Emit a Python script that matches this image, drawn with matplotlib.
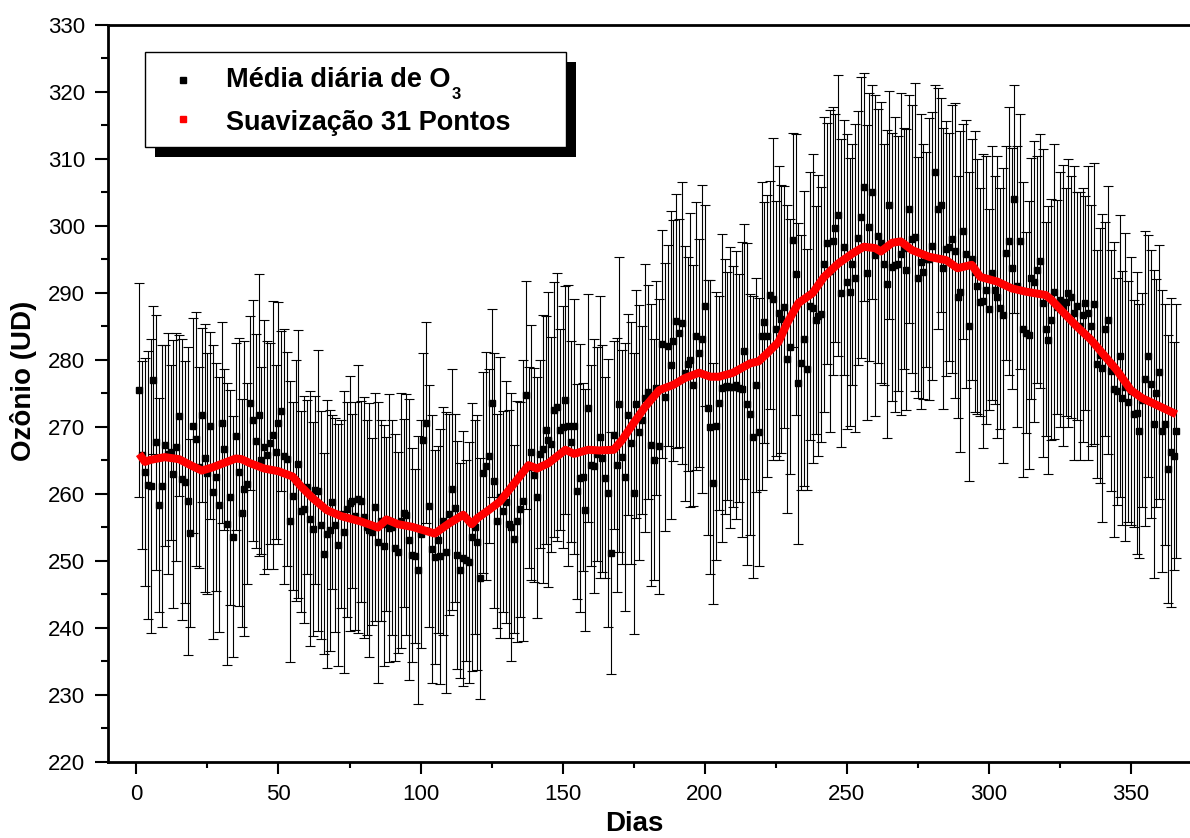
import matplotlib
matplotlib.use("Agg")
import matplotlib.pyplot as plt
from matplotlib.patches import Rectangle
from matplotlib.lines import Line2D
from matplotlib.transforms import IdentityTransform
from matplotlib.ticker import MultipleLocator

plt.rcParams['font.family'] = ['Liberation Sans', 'DejaVu Sans']

# daily mean ozone (DU), days 1..366
mean = [
    275.5, 265.8, 263.3, 261.3, 261.2, 277.0, 267.7, 258.4, 261.2, 267.3,
    266.0, 266.2, 263.0, 267.0, 271.7, 262.2, 261.8, 259.0, 254.2, 270.2,
    268.2, 264.0, 271.8, 265.4, 263.1, 270.2, 260.3, 262.5, 258.4, 270.6,
    266.7, 255.5, 259.5, 253.6, 268.6, 263.3, 257.2, 260.8, 261.5, 273.6,
    271.0, 267.9, 271.8, 265.0, 267.0, 265.8, 267.6, 268.8, 266.3, 270.6,
    272.4, 265.6, 265.2, 255.9, 259.7, 262.0, 264.5, 257.4, 257.7, 261.1,
    256.3, 254.8, 260.6, 260.5, 255.4, 251.1, 254.1, 254.6, 258.8, 255.4,
    252.4, 257.0, 254.3, 257.7, 258.6, 258.9, 256.7, 259.3, 258.9, 256.5,
    255.0, 254.6, 254.4, 258.1, 252.8, 256.0, 252.3, 255.5, 254.9, 255.0,
    252.0, 251.3, 256.0, 257.2, 256.9, 253.2, 250.9, 250.8, 248.7, 254.0,
    268.1, 270.6, 258.2, 251.8, 250.6, 253.2, 250.7, 256.0, 251.3, 257.0,
    260.7, 257.9, 250.9, 248.6, 250.4, 250.1, 249.8, 253.6, 255.1, 252.8,
    247.4, 263.2, 264.2, 265.7, 273.6, 262.0, 256.0, 259.5, 257.4, 258.8,
    255.5, 255.1, 253.3, 255.9, 257.7, 259.0, 274.8, 264.0, 266.2, 262.8,
    259.5, 266.0, 266.7, 269.6, 268.1, 267.4, 272.6, 273.0, 269.6, 270.0,
    274.0, 270.2, 267.8, 270.1, 260.4, 262.4, 262.5, 257.6, 272.8, 264.3,
    264.2, 266.0, 268.5, 265.3, 262.4, 260.2, 251.2, 268.8, 264.3, 273.4,
    265.5, 262.6, 271.8, 267.6, 260.1, 273.4, 269.2, 271.0, 274.3, 275.2,
    267.3, 265.1, 275.8, 267.1, 282.4, 274.5, 282.1, 279.3, 282.9, 285.8,
    284.0, 285.5, 278.0, 279.4, 280.0, 276.2, 283.6, 281.0, 283.1, 288.1,
    272.9, 270.0, 261.6, 270.2, 273.6, 275.8, 276.0, 276.1, 275.9, 276.0,
    276.2, 275.8, 275.6, 281.3, 273.4, 271.9, 268.5, 276.3, 269.3, 283.6,
    285.6, 283.6, 289.7, 289.1, 284.7, 287.0, 286.1, 287.9, 280.1, 282.0,
    297.9, 292.8, 276.5, 279.6, 283.2, 278.6, 288.0, 287.7, 286.0, 286.6,
    286.8, 294.3, 297.4, 293.3, 297.8, 299.7, 301.6, 290.0, 296.8, 291.7,
    290.2, 294.3, 292.2, 298.2, 301.3, 305.8, 293.0, 299.9, 305.1, 295.6,
    298.5, 297.5, 294.3, 291.3, 303.1, 293.9, 294.2, 294.4, 295.8, 296.7,
    293.5, 302.5, 298.0, 298.4, 292.3, 294.7, 293.2, 295.0, 295.1, 297.0,
    308.0, 302.6, 303.1, 293.7, 296.6, 296.9, 298.0, 296.3, 289.4, 290.2,
    299.2, 295.8, 285.0, 295.0, 293.2, 291.0, 288.7, 288.8, 290.5, 287.6,
    293.0, 290.5, 289.4, 287.7, 286.7, 296.0, 297.7, 293.7, 304.0, 291.0,
    297.7, 284.6, 284.1, 283.7, 292.2, 291.7, 293.5, 294.8, 288.5, 284.6,
    283.0, 286.0, 290.2, 287.9, 289.0, 288.1, 288.7, 290.0, 289.4, 287.0,
    288.1, 285.0, 286.7, 288.5, 287.0, 285.1, 288.4, 279.4, 280.7, 278.8,
    284.6, 285.9, 278.4, 275.6, 275.3, 280.6, 274.3, 276.0, 273.8, 275.3,
    272.0, 272.1, 269.4, 274.0, 277.2, 280.6, 276.4, 270.4, 275.1, 278.2,
    269.4, 270.4, 263.8, 266.2, 265.7, 269.4,
]

# error bar half-lengths (DU)
err = [
    16, 14, 17, 20, 22, 11, 19, 16, 21, 15,
    18, 13, 20, 17, 12, 21, 18, 23, 14, 16,
    19, 15, 13, 20, 18, 14, 22, 17, 19, 15,
    12, 21, 16, 18, 14, 20, 17, 22, 15, 13,
    18, 16, 21, 14, 19, 17, 15, 20, 13, 18,
    12, 19, 16, 21, 14, 18, 20, 15, 17, 13,
    19, 16, 14, 21, 17, 15, 20, 18, 13, 16,
    18, 14, 21, 16, 19, 13, 17, 20, 15, 18,
    16, 19, 14, 17, 21, 15, 18, 13, 20, 16,
    17, 15, 19, 14, 18, 21, 16, 13, 20, 17,
    13, 15, 18, 20, 16, 14, 19, 17, 21, 15,
    18, 14, 17, 16, 19, 15, 18, 20, 16, 19,
    18, 15, 17, 13, 14, 19, 16, 21, 15, 18,
    17, 20, 14, 18, 16, 21, 17, 15, 19, 16,
    18, 14, 20, 17, 22, 16, 19, 20, 15, 18,
    17, 21, 15, 19, 16, 20, 14, 18, 17, 15,
    19, 16, 21, 17, 15, 20, 18, 14, 19, 22,
    16, 20, 15, 18, 21, 17, 19, 14, 20, 16,
    21, 18, 16, 22, 17, 20, 15, 23, 18, 19,
    17, 21, 19, 16, 22, 18, 20, 17, 23, 15,
    19, 22, 18, 20, 16, 23, 19, 17, 21, 18,
    20, 17, 22, 19, 24, 18, 21, 16, 20, 23,
    18, 21, 17, 24, 19, 22, 20, 18, 23, 19,
    16, 21, 24, 19, 22, 18, 20, 23, 17, 21,
    19, 22, 18, 24, 20, 17, 21, 23, 19, 22,
    20, 18, 23, 19, 21, 17, 22, 20, 16, 24,
    19, 21, 18, 23, 17, 20, 22, 19, 24, 18,
    21, 17, 20, 23, 18, 22, 19, 16, 21, 20,
    13, 18, 16, 21, 19, 17, 20, 22, 18, 24,
    16, 20, 23, 18, 21, 19, 17, 22, 20, 15,
    19, 17, 21, 18, 22, 16, 20, 18, 17, 21,
    19, 22, 15, 20, 18, 21, 17, 19, 23, 16,
    20, 18, 22, 16, 19, 21, 17, 20, 18, 22,
    17, 20, 19, 16, 22, 18, 21, 17, 19, 23,
    16, 20, 18, 22, 17, 21, 19, 23, 18, 20,
    17, 21, 19, 16, 22, 18, 20, 23, 17, 19,
    21, 18, 20, 23, 17, 19,
]
days = list(range(1, len(mean) + 1))

# 31-point smoothing
smooth_days = [1, 3, 5, 10, 15, 20, 23, 27, 30, 35,
               37, 40, 45, 50, 55, 58, 62, 67, 72, 79,
               85, 88, 92, 97, 101, 105, 110, 115, 118, 120,
               124, 128, 133, 138, 141, 145, 151, 154, 159, 163,
               168, 171, 175, 179, 184, 189, 193, 198, 202, 205,
               210, 216, 219, 222, 226, 229, 233, 238, 242, 247,
               252, 256, 260, 262, 266, 269, 273, 279, 285, 289,
               294, 297, 303, 308, 313, 320, 322, 326, 331, 336,
               340, 345, 350, 354, 359, 366]
smooth_vals = [266.0, 264.8, 265.1, 265.5, 265.2, 264.1, 263.5, 264.0, 264.5, 265.3,
               265.2, 264.6, 263.8, 263.4, 262.6, 261.1, 259.4, 257.6, 256.7, 255.9,
               255.0, 256.2, 255.5, 255.1, 254.6, 254.1, 255.6, 256.9, 255.5, 256.4,
               257.6, 258.9, 261.6, 264.3, 263.8, 264.6, 266.6, 266.0, 266.6, 266.5,
               266.6, 268.1, 270.6, 273.0, 275.5, 276.3, 277.3, 278.1, 277.5, 277.5,
               278.1, 279.5, 279.8, 281.0, 282.7, 285.5, 288.5, 290.0, 292.4, 294.4,
               295.9, 296.9, 296.7, 296.2, 297.5, 297.7, 296.4, 295.4, 294.9, 293.7,
               294.2, 292.4, 291.7, 290.7, 290.2, 289.7, 289.0, 287.2, 285.0, 283.0,
               281.0, 278.5, 275.5, 274.3, 273.3, 271.9]

W, H = 1190, 838
fig = plt.figure(figsize=(W / 100, H / 100), dpi=100)
ax = fig.add_axes([108 / W, (H - 762) / H, (W - 108) / W, (762 - 25) / H])

ax.errorbar(days, mean, yerr=err, fmt='s', color='black', ms=5,
            ecolor='black', elinewidth=0.8, capsize=3.6, capthick=0.8, zorder=2)
ax.plot(smooth_days, smooth_vals, color='red', lw=5.8, zorder=3,
        solid_capstyle='butt', solid_joinstyle='round')

ax.set_xlim(-10, 370.8)
ax.set_ylim(220, 330)
ax.xaxis.set_major_locator(MultipleLocator(50))
ax.xaxis.set_minor_locator(MultipleLocator(25))
ax.yaxis.set_major_locator(MultipleLocator(10))
ax.yaxis.set_minor_locator(MultipleLocator(5))

ax.spines['right'].set_visible(False)
for s in ['left', 'bottom', 'top']:
    ax.spines[s].set_linewidth(2)
ax.tick_params(axis='x', which='major', direction='out', length=8.5, width=1.5,
               labelsize=16, pad=7)
ax.tick_params(axis='x', which='minor', direction='out', length=4.3, width=1.5)
ax.tick_params(axis='y', which='major', direction='out', length=9.5, width=1.5,
               labelsize=16, pad=7)
ax.tick_params(axis='y', which='minor', direction='out', length=4.8, width=1.5)

ax.set_xlabel('Dias', fontsize=20, fontweight='bold', va='bottom')
ax.set_ylabel('Ozônio (UD)', fontsize=20, fontweight='bold')
ax.xaxis.set_label_coords(0.486, (762 - 837) / 737)
ax.yaxis.set_label_coords(-0.066, 0.517)

# legend box with solid black shadow (pixel coordinates from the top-left)
def fx(x):
    return x / W

def fy(y):
    return 1 - y / H

fig.add_artist(Rectangle((fx(154.6), fy(157)), fx(421), 95 / H,
                         transform=fig.transFigure, facecolor='black',
                         edgecolor='none', zorder=5))
fig.add_artist(Rectangle((fx(144.6), fy(147)), fx(421), 95 / H,
                         transform=fig.transFigure, facecolor='white',
                         edgecolor='black', lw=1, zorder=6))
fig.add_artist(Line2D([fx(183)], [fy(80)], marker='s', ms=5, color='black',
                      transform=fig.transFigure, zorder=7))
fig.add_artist(Line2D([fx(183)], [fy(119)], marker='s', ms=5, color='red',
                      transform=fig.transFigure, zorder=7))
t1 = fig.text(fx(226), fy(87), 'Média diária de O', fontsize=19.5,
              fontweight='bold', va='baseline', zorder=7)
fig.text(fx(226), fy(129.5), 'Suavização 31 Pontos', fontsize=19.5,
         fontweight='bold', va='baseline', zorder=7)
fig.canvas.draw()
bb = t1.get_window_extent()
fig.text(bb.x1 + 1, H - 98.5, '3', fontsize=12, fontweight='bold',
         va='baseline', transform=IdentityTransform(), zorder=7)

fig.savefig('out.png', dpi=100)
